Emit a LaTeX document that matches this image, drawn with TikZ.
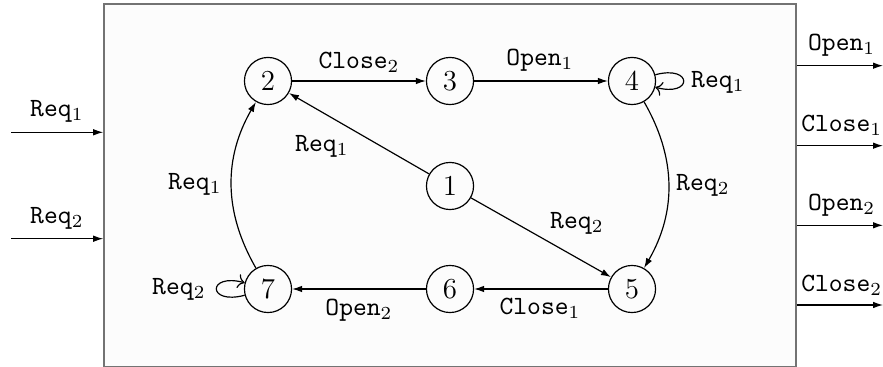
\documentclass[tikz,border=0pt]{standalone}
\usetikzlibrary{arrows.meta}
\begin{document}
\begin{tikzpicture}[x=0.38pt,y=0.38pt,
  st/.style={circle,draw,line width=0.45pt,minimum size=17.9pt,inner sep=0pt,font=\fontsize{11}{13}\selectfont},
  lab/.style={inner sep=0pt},
  tr/.style={line width=0.45pt,-{Latex[length=3.8pt,width=2.5pt]}},
  lp/.style={line width=0.45pt,->,looseness=8,min distance=5mm}]
\useasboundingbox (0,0) rectangle (883,367);
\node[draw=black!55,line width=0.6pt,fill=black!1,minimum width=262.96pt,minimum height=137.75pt,inner sep=0pt] (box) at (450,181.75) {};
% states
\node[st] (n2) at (268,286) {2};
\node[st] (n3) at (450,286) {3};
\node[st] (n4) at (632,286) {4};
\node[st] (n1) at (450,181) {1};
\node[st] (n5) at (632,78) {5};
\node[st] (n6) at (450,78) {6};
\node[st] (n7) at (268,78) {7};
% transitions
\draw[tr] (n2) -- (n3);
\draw[tr] (n3) -- (n4);
\draw[tr] (n1) -- (n2);
\draw[tr] (n1) -- (n5);
\draw[tr] (n4) to[bend left=30] (n5);
\draw[tr] (n5) -- (n6);
\draw[tr] (n6) -- (n7);
\draw[tr] (n7) to[bend left=30] (n2);
\draw[lp] (n4) to[out=15,in=-15] (n4);
\draw[lp] (n7) to[out=195,in=165] (n7);
% labels
\node[lab] (l23) at (359,305) {\texttt{Close}$_2$};
\node[lab] (l34) at (540,307) {\texttt{Open}$_1$};
\node[lab] (l44) at (718,285) {\texttt{Req}$_1$};
\node[lab] (l12) at (322,221) {\texttt{Req}$_1$};
\node[lab] (l15) at (577,144) {\texttt{Req}$_2$};
\node[lab] (l45) at (703,182) {\texttt{Req}$_2$};
\node[lab] (l56) at (540,59) {\texttt{Close}$_1$};
\node[lab] (l67) at (359,57) {\texttt{Open}$_2$};
\node[lab] (l72) at (195,183) {\texttt{Req}$_1$};
\node[lab] (l77) at (179,78) {\texttt{Req}$_2$};
% inputs
\coordinate (i1) at (11,234.7);
\coordinate (i2) at (11,128.3);
\draw[tr] (i1) -- (i1 -| box.west);
\draw[tr] (i2) -- (i2 -| box.west);
\node[lab] (li1) at (57,255.5) {\texttt{Req}$_1$};
\node[lab] (li2) at (57,149) {\texttt{Req}$_2$};
% outputs
\coordinate (o1) at (883,301.3);
\coordinate (o2) at (883,221.3);
\coordinate (o3) at (883,141.7);
\coordinate (o4) at (883,62);
\draw[tr] (o1 -| box.east) -- (o1);
\draw[tr] (o2 -| box.east) -- (o2);
\draw[tr] (o3 -| box.east) -- (o3);
\draw[tr] (o4 -| box.east) -- (o4);
\node[lab] (lo1) at (841.7,322) {\texttt{Open}$_1$};
\node[lab] (lo2) at (841.7,242) {\texttt{Close}$_1$};
\node[lab] (lo3) at (841.7,162) {\texttt{Open}$_2$};
\node[lab] (lo4) at (841.7,82) {\texttt{Close}$_2$};
\end{tikzpicture}
\end{document}
